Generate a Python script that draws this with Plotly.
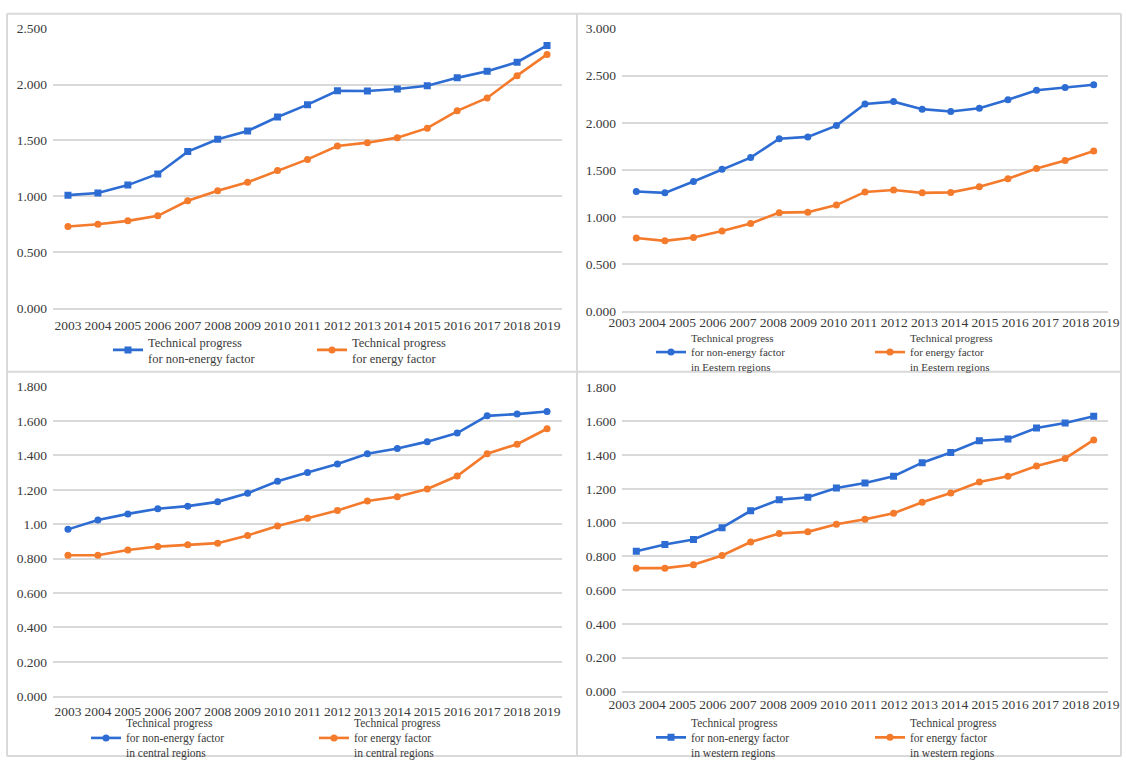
import plotly.graph_objects as go

years = ['2003', '2004', '2005', '2006', '2007', '2008', '2009', '2010', '2011',
         '2012', '2013', '2014', '2015', '2016', '2017', '2018', '2019']

tl_non = [1.01, 1.03, 1.10, 1.20, 1.40, 1.51, 1.585, 1.71, 1.82, 1.945, 1.942, 1.96, 1.99, 2.06, 2.12, 2.20, 2.35]
tl_en = [0.73, 0.75, 0.78, 0.825, 0.96, 1.05, 1.125, 1.23, 1.33, 1.45, 1.48, 1.525, 1.61, 1.765, 1.88, 2.08, 2.27]

tr_non = [1.27, 1.255, 1.375, 1.505, 1.63, 1.83, 1.85, 1.97, 2.20, 2.225, 2.145, 2.12, 2.155, 2.245, 2.345, 2.375, 2.405]
tr_en = [0.775, 0.745, 0.78, 0.85, 0.93, 1.045, 1.05, 1.125, 1.265, 1.285, 1.255, 1.26, 1.32, 1.405, 1.515, 1.60, 1.70]

bl_non = [0.97, 1.025, 1.06, 1.09, 1.105, 1.13, 1.18, 1.25, 1.30, 1.35, 1.41, 1.44, 1.48, 1.53, 1.63, 1.64, 1.655]
bl_en = [0.82, 0.82, 0.85, 0.87, 0.88, 0.89, 0.935, 0.99, 1.035, 1.08, 1.135, 1.16, 1.205, 1.28, 1.41, 1.465, 1.555]

br_non = [0.83, 0.87, 0.90, 0.97, 1.07, 1.135, 1.15, 1.205, 1.235, 1.275, 1.355, 1.415, 1.485, 1.495, 1.56, 1.59, 1.63]
br_en = [0.73, 0.73, 0.75, 0.805, 0.885, 0.935, 0.945, 0.99, 1.02, 1.055, 1.12, 1.175, 1.24, 1.275, 1.335, 1.38, 1.49]

tl_ticks = [0.0, 0.5, 1.0, 1.5, 2.0, 2.5]
tl_ticktext = ['0.000', '0.500', '1.000', '1.500', '2.000', '2.500']
tr_ticks = [0.0, 0.5, 1.0, 1.5, 2.0, 2.5, 3.0]
tr_ticktext = ['0.000', '0.500', '1.000', '1.500', '2.000', '2.500', '3.000']
bl_ticks = [0.0, 0.2, 0.4, 0.6, 0.8, 1.0, 1.2, 1.4, 1.6, 1.8]
bl_ticktext = ['0.000', '0.200', '0.400', '0.600', '0.800', '1.00', '1.200', '1.400', '1.600', '1.800']
br_ticks = [0.0, 0.2, 0.4, 0.6, 0.8, 1.0, 1.2, 1.4, 1.6, 1.8]
br_ticktext = ['0.000', '0.200', '0.400', '0.600', '0.800', '1.000', '1.200', '1.400', '1.600', '1.800']

names = {
    'tl': ['Technical progress<br>for non-energy factor', 'Technical progress<br>for energy factor'],
    'tr': ['Technical progress<br>for non-energy factor<br>in Eestern regions',
           'Technical progress<br>for energy factor<br>in Eestern regions'],
    'bl': ['Technical progress<br>for non-energy factor<br>in central regions',
           'Technical progress<br>for energy factor<br>in central regions'],
    'br': ['Technical progress<br>for non-energy factor<br>in western regions',
           'Technical progress<br>for energy factor<br>in western regions'],
}

BLUE = '#2D6CD2'
ORANGE = '#F47A2C'
GRID = '#D9D9D9'
TXT = '#3A3A3A'
FONT = 'Liberation Serif, Times New Roman, DejaVu Serif, serif'
W, H = 1126, 767


def px_x(a, b):
    return [a / W, b / W]


def px_y(top, bottom):
    return [1 - bottom / H, 1 - top / H]


fig = go.Figure()

panels = [
    ('tl', 'x', 'y', 'legend', 'square', 'circle', tl_non, tl_en),
    ('tr', 'x2', 'y2', 'legend2', 'circle', 'circle', tr_non, tr_en),
    ('bl', 'x3', 'y3', 'legend3', 'circle', 'circle', bl_non, bl_en),
    ('br', 'x4', 'y4', 'legend4', 'square', 'circle', br_non, br_en),
]

for key, xa, ya, lg, sym_b, sym_o, non, en in panels:
    fig.add_trace(go.Scatter(
        x=years, y=non, name=names[key][0], mode='lines+markers',
        line=dict(color=BLUE, width=2.6), marker=dict(color=BLUE, symbol=sym_b, size=7),
        xaxis=xa, yaxis=ya, legend=lg))
    fig.add_trace(go.Scatter(
        x=years, y=en, name=names[key][1], mode='lines+markers',
        line=dict(color=ORANGE, width=2.6), marker=dict(color=ORANGE, symbol=sym_o, size=7),
        xaxis=xa, yaxis=ya, legend=lg))

# empty traces so that the label-only axes of the right column get drawn
for xa, ya in (('x5', 'y5'), ('x6', 'y6')):
    fig.add_trace(go.Scatter(x=[], y=[], xaxis=xa, yaxis=ya, showlegend=False,
                             hoverinfo='skip'))

tickfont = dict(family=FONT, size=13.5, color=TXT)


def xcat(domain, anchor, show=True, standoff=4):
    return dict(domain=domain, anchor=anchor, type='category', range=[-0.5, len(years) - 0.5],
                showgrid=False, zeroline=False, showline=True, linecolor=GRID, linewidth=1.5,
                ticks='', showticklabels=show, tickangle=0, tickfont=tickfont,
                ticklabelstandoff=standoff, fixedrange=True)


def yax(domain, anchor, ticks, text, top):
    return dict(domain=domain, anchor=anchor, range=[0, top * 1.0005], tickvals=ticks, ticktext=text,
                showgrid=True, gridcolor=GRID, gridwidth=1.5, zeroline=False, showline=False,
                ticks='', tickfont=tickfont, ticklabelstandoff=5, fixedrange=True)


def xlab(domain, anchor, standoff=4):
    return dict(domain=domain, anchor=anchor, range=[-0.5, len(years) - 0.5],
                tickvals=list(range(len(years))), ticktext=years, showgrid=False, zeroline=False,
                showline=False, ticks='', tickangle=0, tickfont=tickfont, ticklabelstandoff=standoff,
                fixedrange=True)


TL_X = px_x(53, 562)
TR_X = px_x(622, 1108)
TL_Y = px_y(22, 307)
TR_Y = px_y(22, 310)
BL_Y = px_y(387, 703)
BR_Y = px_y(388, 698)
LAB_X = px_x(607, 1121)

fig.update_layout(
    width=W, height=H, autosize=False,
    margin=dict(l=0, r=0, t=0, b=0),
    paper_bgcolor='white', plot_bgcolor='rgba(0,0,0,0)',
    font=dict(family=FONT, size=13, color=TXT),
    xaxis=xcat(TL_X, 'y'),
    yaxis=yax(TL_Y, 'x', tl_ticks, tl_ticktext, 2.5),
    xaxis2=xcat(TR_X, 'y2', show=False),
    yaxis2=yax(TR_Y, 'x2', tr_ticks, tr_ticktext, 3.0),
    xaxis3=xcat(TL_X, 'y3', standoff=2),
    yaxis3=yax(BL_Y, 'x3', bl_ticks, bl_ticktext, 1.8),
    xaxis4=xcat(TR_X, 'y4', show=False),
    yaxis4=yax(BR_Y, 'x4', br_ticks, br_ticktext, 1.8),
    xaxis5=xlab(LAB_X, 'y5', standoff=2),
    yaxis5=dict(domain=TR_Y, anchor='x5', range=[0, 1], visible=False, showgrid=False, fixedrange=True),
    xaxis6=xlab(LAB_X, 'y6', standoff=3),
    yaxis6=dict(domain=BR_Y, anchor='x6', range=[0, 1], visible=False, showgrid=False, fixedrange=True),
)


def leg(xpix, ypix, ew, size):
    return dict(x=xpix / W, y=1 - ypix / H, xanchor='left', yanchor='middle', orientation='h',
                bgcolor='rgba(0,0,0,0)', borderwidth=0,
                font=dict(family=FONT, size=size, color=TXT), entrywidth=ew,
                entrywidthmode='pixels', itemwidth=30, tracegroupgap=0, itemclick=False,
                itemdoubleclick=False)


fig.update_layout(
    legend=leg(108, 350, 159, 12.5),
    legend2=leg(651, 352, 174, 11),
    legend3=leg(86, 746, 183, 11.5),
    legend4=leg(651, 745, 174, 11.5),
)

# panel borders
shapes = []
bx0, bx1, by0, by1, mx, my = 7, 1121, 7, 764, 577, 372


def line(x0, y0, x1, y1):
    return dict(type='line', xref='paper', yref='paper', x0=x0 / W, x1=x1 / W,
                y0=1 - y0 / H, y1=1 - y1 / H, line=dict(color=GRID, width=2), layer='below')


shapes += [line(bx0, by0, bx1, by0), line(bx0, by1, bx1, by1), line(bx0, by0, bx0, by1),
           line(bx1, by0, bx1, by1), line(mx, by0, mx, by1), line(bx0, my, bx1, my)]
fig.update_layout(shapes=shapes)

fig.write_html('out.html')
